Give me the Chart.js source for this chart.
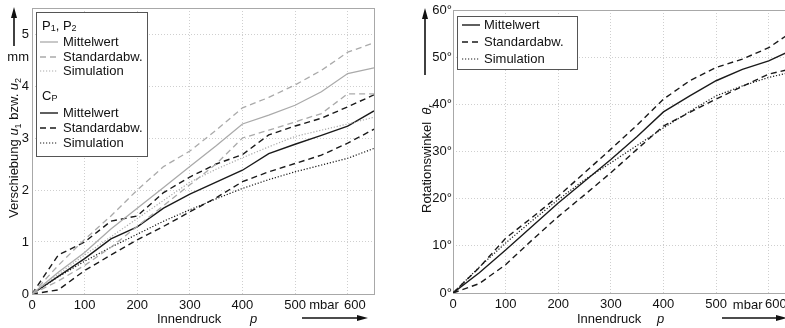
<!DOCTYPE html>
<html>
<head>
<meta charset="utf-8">
<script src="https://cdn.jsdelivr.net/npm/chart.js@4.4.0/dist/chart.umd.min.js"></script>
<style>
  html, body { margin: 0; padding: 0; background: #fff; overflow: hidden; }
  body { width: 785px; height: 328px; position: relative; }
  #left { position: absolute; left: 0; top: 0; }
  #right { position: absolute; left: 395px; top: 0; }
</style>
</head>
<body>
<canvas id="left" width="390" height="328"></canvas>
<canvas id="right" width="410" height="328"></canvas>
<script>
const FONT = '"Liberation Sans", Arial, sans-serif';

// Innendruck p in mbar
const pressure = [0, 50, 100, 150, 200, 250, 300, 350, 400, 450, 500, 550, 600, 650];
const xTicks = [0, 100, 200, 300, 400, 500, 600];

// left: Verschiebung in mm
const pMean  = [0, 0.42, 0.80, 1.25, 1.65, 2.05, 2.45, 2.85, 3.27, 3.44, 3.63, 3.89, 4.24, 4.35];
const pUpper = [0, 0.55, 1.05, 1.50, 2.00, 2.45, 2.75, 3.15, 3.58, 3.78, 4.02, 4.30, 4.65, 4.83];
const pLower = [0, 0.25, 0.55, 0.90, 1.30, 1.70, 2.10, 2.50, 3.00, 3.15, 3.31, 3.47, 3.85, 3.85];
const pSim   = [0, 0.38, 0.75, 1.10, 1.45, 1.80, 2.15, 2.40, 2.62, 2.83, 3.03, 3.15, 3.27, 3.40];
const cMean  = [0, 0.34, 0.68, 1.06, 1.29, 1.65, 1.92, 2.15, 2.38, 2.70, 2.88, 3.05, 3.23, 3.52];
const cUpper = [0, 0.75, 1.00, 1.40, 1.50, 1.95, 2.25, 2.50, 2.68, 3.06, 3.23, 3.38, 3.60, 3.83];
const cLower = [0, 0.08, 0.45, 0.75, 1.04, 1.30, 1.58, 1.85, 2.16, 2.35, 2.51, 2.67, 2.90, 3.17];
const cSim   = [0, 0.33, 0.63, 0.90, 1.15, 1.40, 1.62, 1.83, 2.03, 2.20, 2.35, 2.48, 2.61, 2.80];
const leftTicks = [0, 1, 2, 3, 4, 5];

// right: Rotationswinkel in Grad
const rMean  = [0, 4.3, 9.1, 14.1, 19.1, 23.7, 28.3, 33.2, 38.4, 41.8, 45.0, 47.4, 49.2, 51.8];
const rUpper = [0, 5.4, 11.6, 16.0, 20.5, 25.5, 30.5, 35.6, 41.1, 45.0, 47.8, 49.6, 52.0, 55.8];
const rLower = [0, 2.0, 6.0, 11.2, 16.2, 20.8, 25.5, 30.5, 35.4, 38.3, 41.1, 43.8, 46.4, 47.7];
const rSim   = [0, 5.5, 10.6, 15.3, 19.8, 24.0, 27.6, 31.3, 35.0, 38.5, 41.8, 43.9, 45.7, 47.0];
const rightTicks = [0, 10, 20, 30, 40, 50, 60];

const BLACK = '#1a1a1a';
const GRAY = '#aaaaaa';
const DASH = [6, 4];
const DOT = [1.2, 1.8];

function pts(arr) {
  return pressure.map((p, i) => ({ x: p, y: arr[i] }));
}

function line(label, arr, color, dash, width) {
  return {
    label: label,
    data: pts(arr),
    borderColor: color,
    borderDash: dash,
    borderWidth: width,
    pointRadius: 0,
    tension: 0,
    fill: false
  };
}

function arrow(ctx, x1, y1, x2, y2) {
  const a = Math.atan2(y2 - y1, x2 - x1);
  const c = Math.cos(a), s = Math.sin(a);
  ctx.save();
  ctx.strokeStyle = '#111';
  ctx.fillStyle = '#111';
  ctx.lineWidth = 1.6;
  ctx.beginPath();
  ctx.moveTo(x1, y1);
  ctx.lineTo(x2 - 8 * c, y2 - 8 * s);
  ctx.stroke();
  ctx.beginPath();
  ctx.moveTo(x2, y2);
  ctx.lineTo(x2 - 11 * c + 3 * s, y2 - 11 * s - 3 * c);
  ctx.lineTo(x2 - 11 * c - 3 * s, y2 - 11 * s + 3 * c);
  ctx.closePath();
  ctx.fill();
  ctx.restore();
}

// text with italic / subscript parts
function rich(ctx, parts, x, y) {
  parts.forEach(p => {
    const size = p.sub ? 9 : 13;
    ctx.font = (p.it ? 'italic ' : '') + size + 'px ' + FONT;
    ctx.fillText(p.t, x, y + (p.sub ? 3 : 0));
    x += ctx.measureText(p.t).width;
  });
  return x;
}

function legendRow(ctx, y, color, dash, width, text, x0, x1, tx) {
  ctx.save();
  ctx.strokeStyle = color;
  ctx.lineWidth = width;
  ctx.setLineDash(dash);
  ctx.beginPath();
  ctx.moveTo(x0, y);
  ctx.lineTo(x1, y);
  ctx.stroke();
  ctx.restore();
  ctx.font = '13px ' + FONT;
  ctx.fillText(text, tx, y);
}

function frame(chart) {
  const a = chart.chartArea, ctx = chart.ctx;
  ctx.save();
  ctx.strokeStyle = '#a8a8a8';
  ctx.lineWidth = 1;
  ctx.strokeRect(Math.round(a.left) + 0.5, Math.round(a.top) + 0.5,
    Math.round(a.right - a.left), Math.round(a.bottom - a.top));
  ctx.restore();
}

function axes(yMax, ticks, yWidth, xHeight, degrees) {
  return {
    x: {
      type: 'linear', min: 0, max: 650,
      afterBuildTicks: s => { s.ticks = xTicks.map(v => ({ value: v })); },
      afterFit: s => { s.height = xHeight; s.paddingLeft = 0; s.paddingRight = 0; },
      grid: { color: '#cfcfcf', drawTicks: false },
      border: { display: false, dash: [1, 2] },
      ticks: {
        color: '#111', padding: 4, maxRotation: 0, font: { family: FONT, size: 13 },
        // the last label sits a bit to the right, next to the unit
        callback: v => v === 600 ? '    600' : String(v)
      }
    },
    y: {
      type: 'linear', min: 0, max: yMax,
      afterBuildTicks: s => { s.ticks = ticks.map(v => ({ value: v })); },
      afterFit: s => { s.width = yWidth; s.paddingTop = 0; s.paddingBottom = 0; },
      grid: { color: '#cfcfcf', drawTicks: false },
      border: { display: false, dash: [1, 2] },
      ticks: {
        color: '#111', padding: degrees ? 1 : 3, font: { family: FONT, size: 13 },
        callback: v => degrees ? v + '°' : String(v)
      }
    }
  };
}

const leftDeco = {
  id: 'leftDeco',
  beforeDatasetsDraw(chart) { frame(chart); },
  afterDraw(chart) {
    const ctx = chart.ctx, xs = chart.scales.x, ys = chart.scales.y;
    ctx.save();
    ctx.fillStyle = '#111';
    ctx.textBaseline = 'middle';
    // units
    ctx.font = '13px ' + FONT;
    ctx.textAlign = 'right';
    ctx.fillText('mm', 29, ys.getPixelForValue(4.55));
    ctx.textAlign = 'center';
    ctx.fillText('mbar', xs.getPixelForValue(555), 305);
    ctx.textAlign = 'left';
    // x title
    ctx.textBaseline = 'alphabetic';
    rich(ctx, [{ t: 'Innendruck' }], 157, 323);
    rich(ctx, [{ t: 'p', it: true }], 250, 323);
    arrow(ctx, 302, 318, 368, 318);
    // y title
    ctx.save();
    ctx.translate(18, 218);
    ctx.rotate(-Math.PI / 2);
    rich(ctx, [{ t: 'Verschiebung ' }, { t: 'u', it: true }, { t: '1', sub: true },
      { t: ' bzw. ' }, { t: 'u', it: true }, { t: '2', sub: true }], 0, 0);
    ctx.restore();
    arrow(ctx, 14, 46, 14, 7);
    // legend
    ctx.fillStyle = '#fff';
    ctx.fillRect(37, 13, 110, 143);
    ctx.strokeStyle = '#555';
    ctx.lineWidth = 1;
    ctx.strokeRect(36.5, 12.5, 111, 144);
    ctx.fillStyle = '#111';
    ctx.textBaseline = 'middle';
    rich(ctx, [{ t: 'P' }, { t: '1', sub: true }, { t: ', P' }, { t: '2', sub: true }], 42, 26);
    legendRow(ctx, 42, GRAY, [], 1.3, 'Mittelwert', 40, 58, 63);
    legendRow(ctx, 57, GRAY, DASH, 1.3, 'Standardabw.', 40, 58, 63);
    legendRow(ctx, 71, GRAY, DOT, 1.2, 'Simulation', 40, 58, 63);
    rich(ctx, [{ t: 'C' }, { t: 'P', sub: true }], 42, 96);
    legendRow(ctx, 113, BLACK, [], 1.4, 'Mittelwert', 40, 58, 63);
    legendRow(ctx, 128, BLACK, DASH, 1.4, 'Standardabw.', 40, 58, 63);
    legendRow(ctx, 143, BLACK, DOT, 1.2, 'Simulation', 40, 58, 63);
    ctx.restore();
  }
};

const rightDeco = {
  id: 'rightDeco',
  beforeDatasetsDraw(chart) { frame(chart); },
  afterDraw(chart) {
    const ctx = chart.ctx, xs = chart.scales.x;
    ctx.save();
    ctx.fillStyle = '#111';
    ctx.textBaseline = 'middle';
    ctx.font = '13px ' + FONT;
    ctx.textAlign = 'center';
    ctx.fillText('mbar', xs.getPixelForValue(560), 305);
    ctx.textAlign = 'left';
    ctx.textBaseline = 'alphabetic';
    rich(ctx, [{ t: 'Innendruck' }], 577 - 395, 323);
    rich(ctx, [{ t: 'p', it: true }], 657 - 395, 323);
    arrow(ctx, 722 - 395, 318, 787 - 395, 318);
    ctx.save();
    ctx.translate(431 - 395, 213);
    ctx.rotate(-Math.PI / 2);
    rich(ctx, [{ t: 'Rotationswinkel  ' }, { t: 'θ', it: true }, { t: 'r', sub: true, it: true }], 0, 0);
    ctx.restore();
    arrow(ctx, 425 - 395, 75, 425 - 395, 8);
    // legend
    ctx.fillStyle = '#fff';
    ctx.fillRect(63, 17, 119, 52);
    ctx.strokeStyle = '#555';
    ctx.lineWidth = 1;
    ctx.strokeRect(62.5, 16.5, 120, 53);
    ctx.fillStyle = '#111';
    ctx.textBaseline = 'middle';
    legendRow(ctx, 25, BLACK, [], 1.4, 'Mittelwert', 67, 85, 89);
    legendRow(ctx, 42, BLACK, DASH, 1.4, 'Standardabw.', 67, 85, 89);
    legendRow(ctx, 59, BLACK, DOT, 1.2, 'Simulation', 67, 85, 89);
    ctx.restore();
  }
};

new Chart(document.getElementById('left').getContext('2d'), {
  type: 'line',
  data: {
    datasets: [
      line('P Mittelwert', pMean, GRAY, [], 1.3),
      line('P Standardabw. oben', pUpper, GRAY, DASH, 1.3),
      line('P Standardabw. unten', pLower, GRAY, DASH, 1.3),
      line('P Simulation', pSim, GRAY, DOT, 1.2),
      line('C Mittelwert', cMean, BLACK, [], 1.4),
      line('C Standardabw. oben', cUpper, BLACK, DASH, 1.4),
      line('C Standardabw. unten', cLower, BLACK, DASH, 1.4),
      line('C Simulation', cSim, BLACK, DOT, 1.2)
    ]
  },
  options: {
    responsive: false,
    animation: false,
    layout: { padding: { top: 8, right: 16, left: 0, bottom: 0 } },
    plugins: { legend: { display: false }, tooltip: { enabled: false } },
    scales: axes(5.5, leftTicks, 32, 34, false)
  },
  plugins: [leftDeco]
});

new Chart(document.getElementById('right').getContext('2d'), {
  type: 'line',
  data: {
    datasets: [
      line('Mittelwert', rMean, BLACK, [], 1.4),
      line('Standardabw. oben', rUpper, BLACK, DASH, 1.4),
      line('Standardabw. unten', rLower, BLACK, DASH, 1.4),
      line('Simulation', rSim, BLACK, DOT, 1.2)
    ]
  },
  options: {
    responsive: false,
    animation: false,
    layout: { padding: { top: 10, right: 10, left: 0, bottom: 0 } },
    plugins: { legend: { display: false }, tooltip: { enabled: false } },
    scales: axes(60, rightTicks, 58, 35, true)
  },
  plugins: [rightDeco]
});
</script>
</body>
</html>
